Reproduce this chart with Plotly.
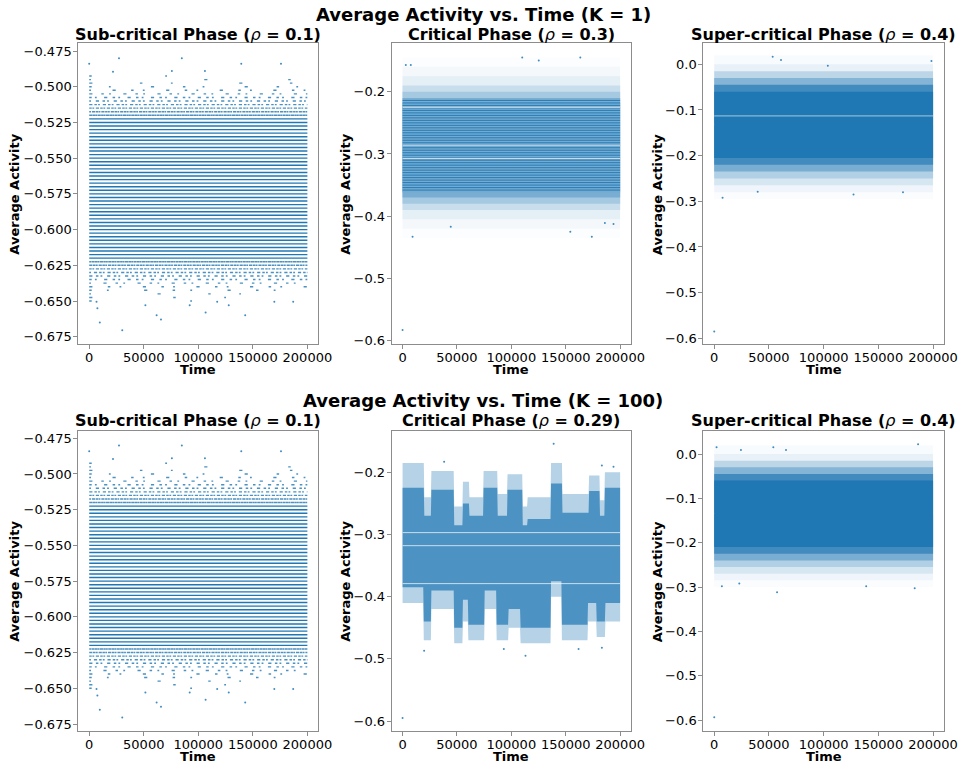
import plotly.graph_objects as go

# ---------------- data ----------------
T0, T1 = 0, 199999
time_ticks = [0, 50000, 100000, 150000, 200000]

# Sub-critical phase (p = 0.1): quantised activity levels and their occupancy (fraction of time steps)
sub_levels = [-0.4850, -0.4875, -0.4900, -0.4925, -0.4950, -0.4975,
              -0.5000, -0.5025, -0.5050, -0.5075, -0.5100, -0.5125, -0.5150, -0.5175,
              -0.5200, -0.5225, -0.5250, -0.5275, -0.5300, -0.5325, -0.5350, -0.5375,
              -0.5400, -0.5425, -0.5450, -0.5475, -0.5500, -0.5525, -0.5550, -0.5575,
              -0.5600, -0.5625, -0.5650, -0.5675, -0.5700, -0.5725, -0.5750, -0.5775,
              -0.5800, -0.5825, -0.5850, -0.5875, -0.5900, -0.5925, -0.5950, -0.5975,
              -0.6000, -0.6025, -0.6050, -0.6075, -0.6100, -0.6125, -0.6150, -0.6175,
              -0.6200, -0.6225, -0.6250, -0.6275, -0.6300, -0.6325, -0.6350, -0.6375,
              -0.6400, -0.6425, -0.6450, -0.6475, -0.6500, -0.6525, -0.6550, -0.6575]
sub_density = [0.0, 0.0, 0.0, 0.02, 0.03, 0.05,
               0.08, 0.14, 0.22, 0.32, 0.42, 0.55, 0.68, 0.80,
               0.90, 1.0, 1.0, 1.0, 1.0, 1.0, 1.0, 1.0,
               1.0, 1.0, 1.0, 1.0, 1.0, 1.0, 1.0, 1.0,
               1.0, 1.0, 1.0, 1.0, 1.0, 1.0, 1.0, 1.0,
               1.0, 1.0, 1.0, 1.0, 1.0, 1.0, 1.0, 1.0,
               1.0, 1.0, 1.0, 1.0, 1.0, 1.0, 1.0, 1.0,
               1.0, 0.90, 0.80, 0.68, 0.55, 0.42, 0.32, 0.22,
               0.14, 0.09, 0.05, 0.03, 0.015, 0.0, 0.0, 0.0]
sub_out_t = [0, 27300, 84900, 139400, 175800, 21800, 75800, 106100, 6700, 7500,
             9700, 30300, 51500, 61800, 65800, 92100, 106700, 143000, 169700, 187000,
             117300, 127900]
sub_out_v = [-0.484, -0.480, -0.480, -0.484, -0.484, -0.4895, -0.489, -0.489, -0.6505, -0.655,
             -0.665, -0.6704, -0.653, -0.660, -0.663, -0.653, -0.658, -0.660, -0.6505, -0.6505,
             -0.6505, -0.653]
sub_yticks = [-0.475, -0.500, -0.525, -0.550, -0.575, -0.600, -0.625, -0.650, -0.675]

# Critical phase, K = 1 (p = 0.3): occupancy profile between band edges
crit1_edges = [-0.145, -0.160, -0.175, -0.190, -0.200, -0.210, -0.218,
               -0.362, -0.370, -0.380, -0.390, -0.405, -0.420, -0.435]
crit1_density = [0.02, 0.06, 0.15, 0.30, 0.50, 0.75, 1.0, 0.75, 0.50, 0.30, 0.15, 0.06, 0.02]
crit1_levels = [-0.214, -0.218, -0.222, -0.226, -0.230, -0.234, -0.238, -0.242, -0.246, -0.250,
                -0.254, -0.258, -0.262, -0.266, -0.270, -0.274, -0.278, -0.282, -0.286, -0.290,
                -0.294, -0.298, -0.302, -0.306, -0.310, -0.314, -0.318, -0.322, -0.326, -0.330,
                -0.334, -0.338, -0.342, -0.346, -0.350, -0.354, -0.358]
crit1_gaps = [-0.225, -0.286, -0.307]
crit1_out_t = [0, 7600, 110000, 125200, 163400, 3000, 44300, 9200, 154200, 174000, 186000, 193900]
crit1_out_v = [-0.583, -0.157, -0.145, -0.150, -0.145, -0.157, -0.417, -0.433, -0.425, -0.433, -0.411, -0.4125]

# Super-critical phase, K = 1 (p = 0.4)
sup1_edges = [0.020, 0.000, -0.015, -0.030, -0.045, -0.060,
              -0.205, -0.220, -0.235, -0.250, -0.265, -0.280, -0.295]
sup1_density = [0.03, 0.10, 0.30, 0.55, 0.85, 1.0, 0.85, 0.60, 0.35, 0.18, 0.07, 0.02]
sup1_gaps = [-0.113]
sup1_out_t = [0, 53400, 61000, 198500, 103800, 7600, 127300, 172500, 39700]
sup1_out_v = [-0.585, 0.0168, 0.0095, 0.0073, -0.003, -0.292, -0.285, -0.280, -0.279]

# Critical phase, K = 100 (p = 0.29): time-varying envelopes (segment start, end, dense edge, sparse edge)
k100_up_start = [0, 20000, 26500, 47500, 55500, 61500, 74500, 87500, 96500, 110500,
                 115000, 136500, 147000, 171500, 181500, 186000]
k100_up_end = [19500, 26000, 47000, 55000, 61000, 74000, 87000, 96000, 110000, 114500,
               136000, 146500, 171000, 181000, 185500, 199999]
k100_up_dense = [-0.225, -0.270, -0.228, -0.285, -0.250, -0.270, -0.225, -0.270, -0.228, -0.285,
                 -0.275, -0.218, -0.265, -0.230, -0.270, -0.225]
k100_up_sparse = [-0.185, -0.240, -0.198, -0.255, -0.215, -0.240, -0.198, -0.235, -0.203, -0.255,
                  -0.240, -0.185, -0.235, -0.205, -0.245, -0.200]
k100_lo_start = [0, 19500, 26500, 47500, 55500, 60500, 75500, 86500, 97500, 108500,
                 136500, 146500, 170500, 178500, 186500]
k100_lo_end = [19000, 26000, 47000, 55000, 60000, 75000, 86000, 97000, 108000, 136000,
               146000, 170000, 178000, 186000, 199999]
k100_lo_dense = [-0.385, -0.440, -0.390, -0.450, -0.405, -0.445, -0.390, -0.445, -0.420, -0.450,
                 -0.375, -0.445, -0.410, -0.440, -0.410]
k100_lo_sparse = [-0.410, -0.470, -0.420, -0.475, -0.440, -0.470, -0.420, -0.470, -0.450, -0.475,
                  -0.400, -0.470, -0.440, -0.465, -0.440]
k100_gaps = [-0.297, -0.318, -0.379]
k100_out_t = [0, 19800, 113000, 93100, 161800, 183200, 138900, 38200, 183200, 193900]
k100_out_v = [-0.595, -0.487, -0.495, -0.484, -0.484, -0.482, -0.154, -0.183, -0.189, -0.191]

# Super-critical phase, K = 100 (p = 0.4)
sup2_edges = [0.020, 0.000, -0.015, -0.030, -0.045, -0.060,
              -0.210, -0.225, -0.240, -0.255, -0.270, -0.285, -0.300]
sup2_density = [0.03, 0.10, 0.30, 0.55, 0.85, 1.0, 0.85, 0.60, 0.35, 0.18, 0.07, 0.02]
sup2_out_t = [0, 2100, 24400, 54000, 65600, 186300, 57400, 22900, 138900, 183200, 7000]
sup2_out_v = [-0.594, 0.015, 0.009, 0.015, 0.009, 0.022, -0.312, -0.292, -0.298, -0.303, -0.298]

crit_yticks = [-0.2, -0.3, -0.4, -0.5, -0.6]
sup_yticks = [0.0, -0.1, -0.2, -0.3, -0.4, -0.5, -0.6]

# ---------------- style / layout helpers ----------------
W, H = 960, 764
FONT = "DejaVu Sans"
FRAME = "#8c8c8c"
BLUE = (31, 119, 180)


def mix(a):
    return "rgb(%d,%d,%d)" % tuple(round(255 - (255 - c) * a) for c in BLUE)


def px_x(p):
    return p / W


def px_y(p):
    return 1 - p / H


col_px = [(78.3, 318.3), (391.7, 631.0), (703.3, 944.0)]
row_px = [(43.3, 344.0), (430.7, 731.0)]

fig = go.Figure()


def names(k):
    s = "" if k == 1 else str(k)
    return "x" + s, "y" + s, "xaxis" + s, "yaxis" + s


def add_line(k, v, color, width, dash="solid", opacity=1.0):
    xa, ya, _, _ = names(k)
    fig.add_trace(go.Scatter(x=[T0, T1], y=[v, v], mode="lines", xaxis=xa, yaxis=ya,
                             line=dict(color=color, width=width, dash=dash), opacity=opacity,
                             hoverinfo="skip", showlegend=False))


def add_poly(k, xs, ys, color):
    xa, ya, _, _ = names(k)
    fig.add_trace(go.Scatter(x=xs, y=ys, mode="lines", fill="toself", fillcolor=color,
                             line=dict(width=0, color="rgba(0,0,0,0)"), xaxis=xa, yaxis=ya,
                             hoverinfo="skip", showlegend=False))


def add_points(k, ts, vs):
    xa, ya, _, _ = names(k)
    fig.add_trace(go.Scatter(x=ts, y=vs, mode="markers", xaxis=xa, yaxis=ya,
                             marker=dict(size=2.0, color=mix(1.0), opacity=0.85, line=dict(width=0)),
                             hoverinfo="skip", showlegend=False))


def draw_levels(k):
    for i, (v, d) in enumerate(zip(sub_levels, sub_density)):
        if d <= 0:
            continue
        if d >= 1:
            add_line(k, v, mix(1.0), 1.4)
        else:
            on = 2.5
            off = on * (1 - d) / d
            segs = [on, off * 0.6, on * 0.7, off * 1.4, on * 1.3, off]
            r = i % 3
            segs = segs[2 * r:] + segs[:2 * r]
            dash = ",".join("%.1fpx" % s for s in segs)
            add_line(k, v, mix(1.0), 1.4, dash=dash, opacity=0.8)


def draw_profile(k, edges, dens, core_alpha, gaps, gap_alpha, levels=None):
    core = dens.index(1.0)
    mid = (edges[core] + edges[core + 1]) / 2
    for i in range(core):
        add_poly(k, [T0, T1, T1, T0], [edges[i], edges[i], mid, mid], mix(dens[i] * core_alpha))
    for i in range(len(dens) - 1, core, -1):
        add_poly(k, [T0, T1, T1, T0], [mid, mid, edges[i + 1], edges[i + 1]], mix(dens[i] * core_alpha))
    if levels:
        add_poly(k, [T0, T1, T1, T0], [edges[core], edges[core], edges[core + 1], edges[core + 1]],
                 mix(0.62))
        for v in levels:
            add_line(k, v, mix(1.0), 1.0, opacity=0.9)
    else:
        add_poly(k, [T0, T1, T1, T0], [edges[core], edges[core], edges[core + 1], edges[core + 1]],
                 mix(core_alpha))
    for g in gaps:
        add_line(k, g, "white", 1.0, opacity=gap_alpha)


def envelope(starts, ends, vals):
    xs, ys = [], []
    for s, e, v in zip(starts, ends, vals):
        xs += [s, e]
        ys += [v, v]
    return xs, ys


# ---- panel 1 & 4: sub-critical ----
for k in (1, 4):
    draw_levels(k)
    add_points(k, sub_out_t, sub_out_v)

# ---- panel 2: critical K=1 ----
draw_profile(2, crit1_edges, crit1_density, 0.8, crit1_gaps, 0.75, levels=crit1_levels)
add_points(2, crit1_out_t, crit1_out_v)

# ---- panel 3: super-critical K=1 ----
draw_profile(3, sup1_edges, sup1_density, 1.0, sup1_gaps, 0.6)
add_points(3, sup1_out_t, sup1_out_v)

# ---- panel 5: critical K=100 ----
ux, uy = envelope(k100_up_start, k100_up_end, k100_up_sparse)
lx, ly = envelope(k100_lo_start, k100_lo_end, k100_lo_sparse)
add_poly(5, ux + lx[::-1], uy + ly[::-1], mix(0.33))
ux, uy = envelope(k100_up_start, k100_up_end, k100_up_dense)
lx, ly = envelope(k100_lo_start, k100_lo_end, k100_lo_dense)
add_poly(5, ux + lx[::-1], uy + ly[::-1], mix(0.8))
for g in k100_gaps:
    add_line(5, g, "white", 1.0, opacity=0.7)
add_points(5, k100_out_t, k100_out_v)

# ---- panel 6: super-critical K=100 ----
draw_profile(6, sup2_edges, sup2_density, 1.0, [], 0.0)
add_points(6, sup2_out_t, sup2_out_v)

# ---------------- axes ----------------
yranges = {1: [-0.6801, -0.4696], 2: [-0.6053, -0.1222], 3: [-0.6125, 0.046],
           4: [-0.6799, -0.4697], 5: [-0.616, -0.1331], 6: [-0.6248, 0.0526]}
yticks = {1: (sub_yticks, 3), 2: (crit_yticks, 1), 3: (sup_yticks, 1),
          4: (sub_yticks, 3), 5: (crit_yticks, 1), 6: (sup_yticks, 1)}


def fmt(v, n):
    return ("%.*f" % (n, v)).replace("-", "\u2212")


layout = {}
for k in range(1, 7):
    r, c = (k - 1) // 3, (k - 1) % 3
    xa, ya, xn, yn = names(k)
    common = dict(showline=True, mirror=True, linecolor=FRAME, linewidth=1, ticks="outside",
                  ticklen=4, tickwidth=1, tickcolor=FRAME, showgrid=False, zeroline=False,
                  automargin=False,
                  tickfont=dict(family=FONT, size=13, color="black"), fixedrange=True)
    layout[xn] = dict(domain=[px_x(col_px[c][0]), px_x(col_px[c][1])], range=[-10000, 210000],
                      anchor=ya, tickvals=time_ticks, ticktext=[str(t) for t in time_ticks],
                      tickangle=0, ticklabelstandoff=-3, **common)
    tv, nd = yticks[k]
    layout[yn] = dict(domain=[px_y(row_px[r][1]), px_y(row_px[r][0])], range=yranges[k],
                      anchor=xa, tickvals=tv, ticktext=[fmt(v, nd) for v in tv],
                      ticklabelstandoff=-1, **common)

titles = [["Sub-critical Phase", "0.1"], ["Critical Phase", "0.3"], ["Super-critical Phase", "0.4"],
          ["Sub-critical Phase", "0.1"], ["Critical Phase", "0.29"], ["Super-critical Phase", "0.4"]]
annotations = []


def ann(text, size, xref="paper", yref="paper", x=0.5, y=0.5, xshift=0, yshift=0, angle=0):
    annotations.append(dict(text=text, x=x, y=y, xref=xref, yref=yref, xshift=xshift, yshift=yshift,
                            xanchor="center", yanchor="middle", showarrow=False, textangle=angle,
                            font=dict(family=FONT, size=size, color="black")))


ann("<b>Average Activity vs. Time (K = 1)</b>", 18, x=px_x(483), y=px_y(14))
ann("<b>Average Activity vs. Time (K = 100)</b>", 18, x=px_x(483), y=px_y(400))
title_y = [34.5, 421]
time_y = [369.5, 756]
ylab_x = [15, 346, 657.5]
for k in range(1, 7):
    r, c = (k - 1) // 3, (k - 1) % 3
    xa, ya, _, _ = names(k)
    xd, yd = xa + " domain", ya + " domain"
    name, p = titles[k - 1]
    ann("<b>%s (</b><i>\u03c1</i><b> = %s)</b>" % (name, p), 16, xref=xd, yref=yd,
        x=0.5, y=1, yshift=row_px[r][0] - title_y[r])
    ann("<b>Time</b>", 13, xref=xd, yref=yd, x=0.5, y=0, yshift=row_px[r][1] - time_y[r])
    ann("<b>Average Activity</b>", 13, xref=xd, yref=yd, x=0, y=0.5,
        xshift=ylab_x[c] - col_px[c][0], yshift=-1, angle=-90)

fig.update_layout(width=W, height=H, margin=dict(l=0, r=0, t=0, b=0, autoexpand=False),
                  paper_bgcolor="white", plot_bgcolor="white", showlegend=False,
                  annotations=annotations, **layout)
fig.write_html("out.html")
